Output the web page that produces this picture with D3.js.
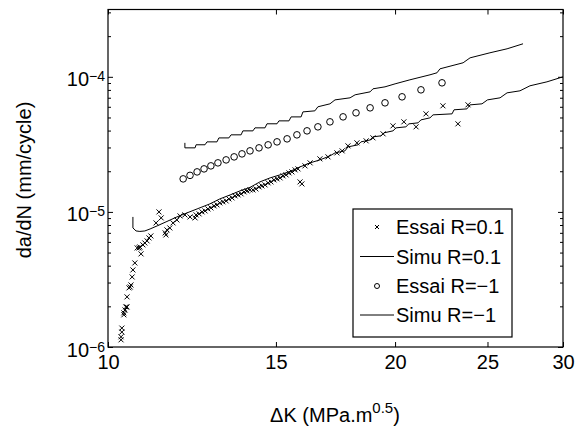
<!DOCTYPE html>
<html><head><meta charset="utf-8">
<script src="https://cdn.jsdelivr.net/npm/d3@7/dist/d3.min.js"></script>
<style>body{margin:0;background:#fff}svg{display:block;font-family:"Liberation Sans",Arial,Helvetica,sans-serif}</style>
</head><body><svg id="c" width="576" height="434"></svg>
<script>
// ---- data ----
const xTickValues = [10, 15, 20, 25, 30];
const xTickLabels = ["10", "15", "20", "25", "30"];
const yTickValues = [1e-6, 1e-5, 1e-4];
const yTickExponents = ["−6", "−5", "−4"];
const seriesNames = ["Essai R=0.1", "Simu R=0.1", "Essai R=−1", "Simu R=−1"];

// Essai R=0.1 (crosses)
const essai01_dK = [10.32,10.32,10.34,10.34,10.39,10.39,10.42,10.44,10.47,10.47,10.52,10.55,10.57,10.60,10.62,10.67,
 10.73,10.78,10.80,10.83,10.88,10.93,10.99,11.04,11.09,11.23,11.31,11.37,
 11.48,11.50,11.53,11.61,11.70,11.81,11.90,12.04,12.19,12.34,
 12.37,12.46,12.55,12.64,12.73,12.82,12.92,13.01,13.10,13.20,13.30,13.39,13.49,13.59,13.69,13.79,13.89,13.99,14.09,14.19,14.29,14.40,14.50,14.61,14.72,14.82,14.93,15.04,15.15,15.26,15.37,15.48,15.59,15.71,15.82,
 15.90,15.97,16.09,16.29,16.68,17.01,17.38,17.60,17.85,18.24,18.65,18.96,19.43,19.90,20.43,21.04,21.55,22.45,23.28,23.85];
const essai01_dadN = [1.13e-6,1.19e-6,1.29e-6,1.38e-6,1.73e-6,1.79e-6,1.88e-6,1.98e-6,1.98e-6,2.35e-6,2.74e-6,2.78e-6,2.88e-6,3.30e-6,3.72e-6,4.19e-6,
 5.41e-6,5.41e-6,5.50e-6,4.89e-6,5.70e-6,5.89e-6,6.10e-6,6.42e-6,6.64e-6,8.29e-6,1.0e-5,9.03e-6,
 6.99e-6,6.75e-6,7.36e-6,7.61e-6,8.29e-6,8.72e-6,9.34e-6,9.50e-6,9.18e-6,9.03e-6,
 9.50e-6,9.67e-6,1.0e-5,1.017e-5,1.052e-5,1.071e-5,1.108e-5,1.127e-5,1.166e-5,1.187e-5,1.206e-5,1.248e-5,1.27e-5,1.314e-5,1.336e-5,1.36e-5,1.406e-5,1.43e-5,1.455e-5,1.455e-5,1.48e-5,1.532e-5,1.558e-5,1.585e-5,1.64e-5,1.668e-5,1.726e-5,1.756e-5,1.786e-5,1.848e-5,1.88e-5,1.945e-5,1.978e-5,2.047e-5,2.082e-5,
 1.668e-5,1.612e-5,2.192e-5,2.307e-5,2.47e-5,2.555e-5,2.735e-5,2.83e-5,3.083e-5,3.245e-5,3.357e-5,3.534e-5,3.783e-5,4.335e-5,4.642e-5,4.263e-5,5.319e-5,6.099e-5,4.486e-5,6.204e-5];

// Simu R=0.1 (line)
const simu01_dK = [10.62,10.62,10.70,10.80,10.93,11.07,11.26,11.53,11.81,12.10,12.40,12.79,13.10,13.43,13.75,14.09,14.43,14.79,15.15,15.52,15.90,16.29,16.68,
 17.09,17.30,17.72,17.85,18.29,18.42,18.83,18.96,19.33,19.47,19.90,20.05,20.53,20.68,21.14,21.29,21.76,21.92,22.95,23.06,23.79,23.97,24.67,25.00,25.77,26.21,27.04,27.70,28.86,30.0];
const simu01_dadN = [9.18e-6,7.61e-6,7.23e-6,7.17e-6,7.23e-6,7.48e-6,7.88e-6,8.5e-6,9.18e-6,9.83e-6,1.052e-5,1.147e-5,1.248e-5,1.336e-5,1.43e-5,1.519e-5,1.668e-5,1.786e-5,1.88e-5,1.995e-5,2.154e-5,2.307e-5,2.427e-5,
 2.598e-5,2.735e-5,2.83e-5,3.03e-5,3.136e-5,3.30e-5,3.41e-5,3.594e-5,3.656e-5,3.848e-5,3.981e-5,4.19e-5,4.263e-5,4.486e-5,4.563e-5,4.80e-5,4.97e-5,5.23e-5,5.32e-5,5.70e-5,5.79e-5,6.20e-5,6.31e-5,6.75e-5,6.99e-5,7.61e-5,7.876e-5,8.58e-5,9.18e-5,1.0e-4];

// Essai R=-1 (circles)
const essaim1_dK = [11.99,12.19,12.40,12.61,12.82,13.04,13.30,13.56,13.82,14.09,14.40,14.72,15.04,15.41,15.78,16.17,16.60,17.09,17.64,18.20,18.83,19.52,20.34,21.29,22.40];
const essaim1_dadN = [1.756e-5,1.864e-5,1.978e-5,2.082e-5,2.192e-5,2.307e-5,2.427e-5,2.555e-5,2.689e-5,2.83e-5,2.979e-5,3.136e-5,3.30e-5,3.474e-5,3.719e-5,3.981e-5,4.263e-5,4.642e-5,5.054e-5,5.412e-5,5.894e-5,6.418e-5,7.11e-5,8.01e-5,9.027e-5];

// Simu R=-1 (line)
const simum1_dK = [12.04,12.04,12.34,12.37,12.64,12.70,13.01,13.07,13.39,13.46,13.79,13.85,14.19,14.26,14.61,14.68,15.04,15.11,15.48,15.56,15.94,16.01,16.48,16.60,17.09,17.30,17.94,18.16,18.83,18.96,19.52,20.00,20.73,21.76,22.13,22.29,23.57,23.97,25.15,26.21,27.24];
const simum1_dadN = [3.245e-5,2.98e-5,2.98e-5,3.14e-5,3.14e-5,3.30e-5,3.30e-5,3.53e-5,3.53e-5,3.72e-5,3.72e-5,3.98e-5,3.98e-5,4.19e-5,4.19e-5,4.49e-5,4.49e-5,4.72e-5,4.72e-5,5.05e-5,5.05e-5,5.5e-5,5.6e-5,6.0e-5,6.31e-5,6.75e-5,6.99e-5,7.36e-5,7.74e-5,8.15e-5,8.43e-5,8.87e-5,9.5e-5,1.035e-4,1.071e-4,1.146e-4,1.27e-4,1.382e-4,1.506e-4,1.612e-4,1.756e-4];

// ---- chart ----
const svg = d3.select("#c");
const L = 108, R = 563, T = 9.5, B = 347;
const x = d3.scaleLog().domain([10, 30]).range([L, R]);
const y = d3.scaleLog().domain([1e-6, 3.15e-4]).range([B, T]);

const zip = (a, b) => a.map((v, i) => [v, b[i]]);

// minor y ticks
const yMinor = [];
for (let e = -6; e <= -4; e++) for (let m = 2; m <= 9; m++) { const v = m * Math.pow(10, e); if (v <= 3.15e-4) yMinor.push(v); }

const axisStyle = g => { g.select(".domain").remove(); g.selectAll("line").attr("stroke", "#000").attr("stroke-width", 1); };

svg.append("g").attr("transform", `translate(0,${B})`)
  .call(d3.axisBottom(x).tickValues(xTickValues).tickSize(-5).tickFormat((d, i) => xTickLabels[i]))
  .call(axisStyle)
  .call(g => g.selectAll("text").attr("y", 8).attr("dy", "0.71em").attr("font-size", 20).attr("fill", "#000").attr("font-family", "Liberation Sans, Arial, sans-serif"));
svg.append("g").attr("transform", `translate(0,${T})`)
  .call(d3.axisTop(x).tickValues(xTickValues).tickSize(-5).tickFormat(""))
  .call(axisStyle);
svg.append("g").attr("transform", `translate(${L},0)`)
  .call(d3.axisLeft(y).tickValues(yTickValues).tickSize(-5).tickFormat(""))
  .call(axisStyle)
  .call(g => g.selectAll(".tick").append("text")
     .attr("x", -3).attr("y", 9).attr("text-anchor", "end").attr("fill", "#000")
     .attr("font-family", "Liberation Sans, Arial, sans-serif")
     .each(function (d, i) {
        const t = d3.select(this);
        t.append("tspan").attr("font-size", 20).text("10");
        t.append("tspan").attr("font-size", 14).attr("dy", -5).text(yTickExponents[i]);
     }));
svg.append("g").attr("transform", `translate(${L},0)`)
  .call(d3.axisLeft(y).tickValues(yMinor).tickSize(-3).tickFormat("")).call(axisStyle);
svg.append("g").attr("transform", `translate(${R},0)`)
  .call(d3.axisRight(y).tickValues(yTickValues).tickSize(-5).tickFormat("")).call(axisStyle);
svg.append("g").attr("transform", `translate(${R},0)`)
  .call(d3.axisRight(y).tickValues(yMinor).tickSize(-3).tickFormat("")).call(axisStyle);

// frame
svg.append("rect").attr("x", L).attr("y", T).attr("width", R - L).attr("height", B - T)
  .attr("fill", "none").attr("stroke", "#000").attr("stroke-width", 1.2);

const plot = svg.append("g");
const line = d3.line().x(d => x(d[0])).y(d => y(d[1]));

plot.append("path").datum(zip(simu01_dK, simu01_dadN)).attr("d", line)
  .attr("fill", "none").attr("stroke", "#000").attr("stroke-width", 1);
plot.append("path").datum(zip(simum1_dK, simum1_dadN)).attr("d", line)
  .attr("fill", "none").attr("stroke", "#000").attr("stroke-width", 1);

const cs = 2.5;
plot.selectAll("path.cross").data(zip(essai01_dK, essai01_dadN)).join("path").attr("class", "cross")
  .attr("d", d => { const px = x(d[0]), py = y(d[1]); return `M${px - cs},${py - cs}L${px + cs},${py + cs}M${px - cs},${py + cs}L${px + cs},${py - cs}`; })
  .attr("stroke", "#000").attr("stroke-width", 1).attr("fill", "none");

plot.selectAll("circle.o").data(zip(essaim1_dK, essaim1_dadN)).join("circle").attr("class", "o")
  .attr("cx", d => x(d[0])).attr("cy", d => y(d[1])).attr("r", 3.3)
  .attr("fill", "none").attr("stroke", "#000").attr("stroke-width", 1);

// legend
const lg = svg.append("g");
lg.append("rect").attr("x", 353).attr("y", 209).attr("width", 159).attr("height", 128)
  .attr("fill", "#fff").attr("stroke", "#000").attr("stroke-width", 1.2);
const rowsY = [227, 256.5, 286, 315];
seriesNames.forEach((name, i) => {
  const yy = rowsY[i];
  if (i === 0) {
    lg.append("path").attr("d", `M${377 - 2},${yy - 2}L${377 + 2},${yy + 2}M${377 - 2},${yy + 2}L${377 + 2},${yy - 2}`).attr("stroke", "#000").attr("stroke-width", 1);
  } else if (i === 2) {
    lg.append("circle").attr("cx", 377).attr("cy", yy).attr("r", 2.5).attr("fill", "none").attr("stroke", "#000").attr("stroke-width", 1);
  } else {
    lg.append("line").attr("x1", 360).attr("x2", 394).attr("y1", yy).attr("y2", yy).attr("stroke", "#000").attr("stroke-width", 1);
  }
  lg.append("text").attr("x", 396).attr("y", yy).attr("dy", "0.36em").attr("font-size", 20).attr("fill", "#000").text(name);
});

// axis titles
svg.append("text").attr("transform", "translate(31,180) rotate(-90)").attr("text-anchor", "middle")
  .attr("font-size", 20).attr("fill", "#000").text("da/dN (mm/cycle)");
const xt = svg.append("text").attr("x", 335).attr("y", 422).attr("text-anchor", "middle").attr("font-size", 20).attr("fill", "#000");
xt.append("tspan").text("ΔK (MPa.m");
xt.append("tspan").attr("font-size", 15).attr("dy", -9).text("0.5");
xt.append("tspan").attr("dy", 9).text(")");
</script>
</body></html>
